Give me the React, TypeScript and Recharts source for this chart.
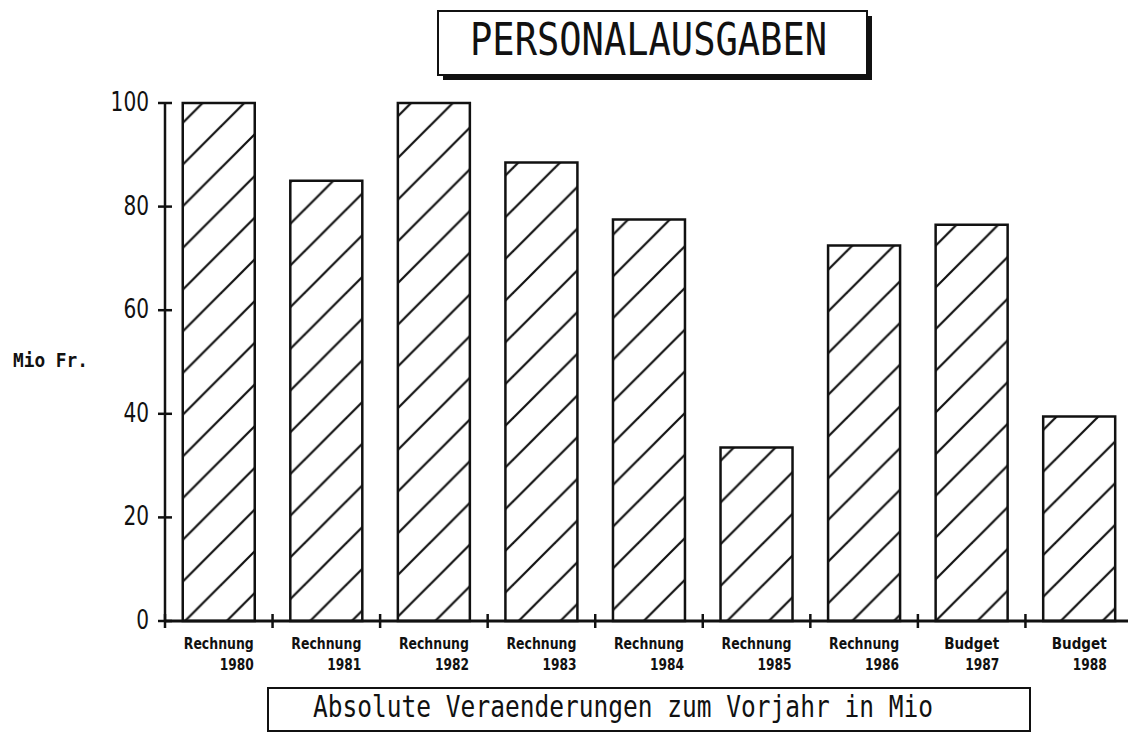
import React from 'react';
import { BarChart, Bar, XAxis, YAxis } from 'recharts';

const kinds = ['Rechnung', 'Rechnung', 'Rechnung', 'Rechnung', 'Rechnung', 'Rechnung', 'Rechnung', 'Budget', 'Budget'];
const years = ['1980', '1981', '1982', '1983', '1984', '1985', '1986', '1987', '1988'];
const values = [100, 85, 100, 88.5, 77.5, 33.5, 72.5, 76.5, 39.5];
const yTicks = [0, 20, 40, 60, 80, 100];

const title = 'PERSONALAUSGABEN';
const subtitle = 'Absolute Veraenderungen zum Vorjahr in Mio';
const unitLabel = 'Mio Fr.';

const data = years.map((year, i) => ({ name: year, kind: kinds[i], value: values[i] }));

const CHART_W = 1140;
const CHART_H = 733;
const MARGIN = { top: 103, right: 7, left: 0, bottom: 52 };
const Y_AXIS_W = 165;
const BAND = (CHART_W - MARGIN.left - MARGIN.right - Y_AXIS_W) / years.length;

const INK = '#111';
const mono = '"DejaVu Sans Mono", monospace';
const sans = '"DejaVu Sans", sans-serif';

const YTick = (props: any) => {
    const { x, y, payload } = props;
    const ax = x + 16; // tickSize + tickMargin
    const label = String(payload.value);
    return (
        <g>
            <line x1={ax - 7} x2={ax + 7} y1={y} y2={y} stroke={INK} strokeWidth={2.5} />
            <text x={x} y={y + 8} textAnchor="end" fontFamily={sans} fontSize={27} fill={INK}
                textLength={label.length * 12.8} lengthAdjust="spacingAndGlyphs">
                {label}
            </text>
        </g>
    );
};

const XTick = (props: any) => {
    const { x, y, payload, index } = props;
    const ay = y - 8; // axis position
    const kind = kinds[index] ?? '';
    const w = kind === 'Budget' ? 55 : 70;
    return (
        <g>
            <line x1={x - BAND / 2} x2={x - BAND / 2} y1={ay - 7} y2={ay + 7} stroke={INK} strokeWidth={2.5} />
            <text x={x - w / 2} y={ay + 28} fontFamily={sans} fontWeight="bold" fontSize={15} fill={INK}
                textLength={w} lengthAdjust="spacingAndGlyphs">
                {kind}
            </text>
            <text x={x + w / 2} y={ay + 49} textAnchor="end" fontFamily={sans} fontWeight="bold" fontSize={16} fill={INK}
                textLength={34} lengthAdjust="spacingAndGlyphs">
                {payload.value}
            </text>
        </g>
    );
};

const HATCH = 41.7;

export default function App() {
    return (
        <div style={{ position: 'absolute', left: 0, top: 0, width: 1128, height: 733, overflow: 'hidden', background: '#fff' }}>
            <svg width={0} height={0} style={{ position: 'absolute' }}>
                <defs>
                    <pattern id="hatch" patternUnits="userSpaceOnUse" x={13.7} y={0} width={HATCH} height={HATCH}>
                        <rect width={HATCH} height={HATCH} fill="#fff" />
                        <line x1={0} y1={HATCH} x2={HATCH} y2={0} stroke={INK} strokeWidth={2.2} />
                        <line x1={-2} y1={2} x2={2} y2={-2} stroke={INK} strokeWidth={2.2} />
                        <line x1={HATCH - 2} y1={HATCH + 2} x2={HATCH + 2} y2={HATCH - 2} stroke={INK} strokeWidth={2.2} />
                    </pattern>
                </defs>
            </svg>
            <BarChart width={CHART_W} height={CHART_H} data={data} margin={MARGIN} barCategoryGap="16.5%">
                <XAxis dataKey="name" interval={0} height={60} tickLine={false} tickSize={6} tickMargin={2}
                    axisLine={{ stroke: INK, strokeWidth: 3 }} tick={<XTick />} />
                <YAxis type="number" domain={[0, 100]} ticks={yTicks} width={Y_AXIS_W} tickLine={false}
                    tickSize={6} tickMargin={10} axisLine={{ stroke: INK, strokeWidth: 2.5 }} tick={<YTick />} />
                <Bar dataKey="value" fill="url(#hatch)" stroke={INK} strokeWidth={2.5} isAnimationActive={false} />
            </BarChart>
            <svg width={1128} height={733} style={{ position: 'absolute', left: 0, top: 0, pointerEvents: 'none' }}>
                {/* title box with drop shadow */}
                <rect x={443} y={16} width={429} height={64} fill={INK} />
                <rect x={438} y={11} width={429} height={64} fill="#fff" stroke={INK} strokeWidth={2} />
                <text x={470} y={55} fontFamily={mono} fontSize={44} fill={INK}
                    textLength={357} lengthAdjust="spacingAndGlyphs">
                    {title}
                </text>
                <text x={13} y={367} fontFamily={mono} fontWeight="bold" fontSize={20} fill={INK}
                    textLength={75} lengthAdjust="spacingAndGlyphs">
                    {unitLabel}
                </text>
                <rect x={268} y={688} width={762} height={43} fill="#fff" stroke={INK} strokeWidth={2} />
                <text x={313} y={717} fontFamily={mono} fontSize={30} fill={INK}
                    textLength={620} lengthAdjust="spacingAndGlyphs">
                    {subtitle}
                </text>
            </svg>
        </div>
    );
}
